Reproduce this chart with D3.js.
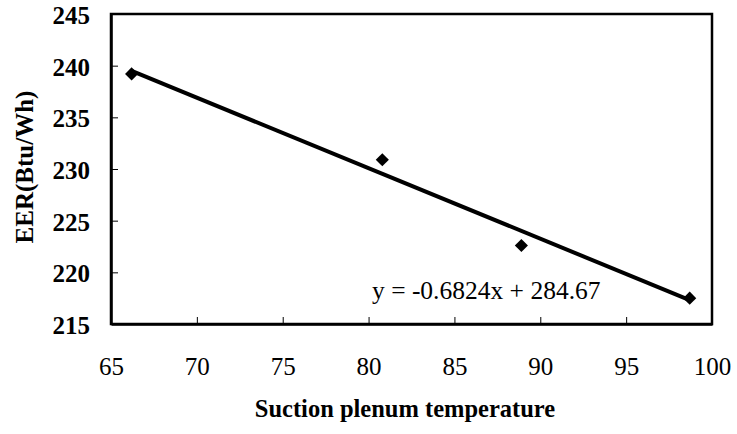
<!DOCTYPE html>
<html>
<head>
<meta charset="utf-8">
<script src="https://cdn.jsdelivr.net/npm/d3@7"></script>
<style>
  body { margin: 0; background: #fff; }
  svg text { font-family: 'Liberation Serif', 'Times New Roman', serif; fill: #000; }
</style>
</head>
<body>
<div id="chart"></div>
<script>
// data
var temps = [66.2, 80.8, 88.9, 98.7];
var eers = [239.2, 230.9, 222.6, 217.5];
var xTicks = [65, 70, 75, 80, 85, 90, 95, 100];
var yTicks = [215, 220, 225, 230, 235, 240, 245];
var slope = -0.6824;
var intercept = 284.67;
var eqLabel = "y = -0.6824x + 284.67";

var svgWidth = 737;
var svgHeight = 434;

var margin = { top: 14, right: 25, bottom: 110, left: 111 };
var chartWidth = svgWidth - margin.left - margin.right;
var chartHeight = svgHeight - margin.top - margin.bottom;

var svg = d3.select("#chart")
    .append("svg")
    .attr("width", svgWidth)
    .attr("height", svgHeight);

var chartGroup = svg.append("g")
    .attr("transform", `translate(${margin.left}, ${margin.top})`);

var xScale = d3.scaleLinear().domain([65, 100]).range([0, chartWidth]);
var yScale = d3.scaleLinear().domain([215, 245]).range([chartHeight, 0]);

// frame
chartGroup.append("rect")
    .attr("width", chartWidth)
    .attr("height", chartHeight)
    .attr("fill", "none")
    .attr("stroke", "#000")
    .attr("stroke-width", 2.5);

// x axis, ticks pointing up into the plot
var xAxis = chartGroup.append("g")
    .attr("transform", `translate(0, ${chartHeight})`)
    .call(d3.axisBottom(xScale).tickValues(xTicks).tickSizeInner(-7).tickSizeOuter(0).tickPadding(33));
xAxis.attr("font-family", null);
xAxis.select(".domain").attr("stroke-width", 2.5);
xAxis.selectAll("text")
    .style("font-size", "25px");

// y axis, ticks pointing right
var yAxis = chartGroup.append("g")
    .call(d3.axisLeft(yScale).tickValues(yTicks).tickSizeInner(-7).tickSizeOuter(0).tickPadding(21));
yAxis.attr("font-family", null);
yAxis.select(".domain").attr("stroke-width", 2.5);
yAxis.selectAll("text")
    .attr("dy", "0.38em")
    .style("font-size", "25px")
    .style("font-weight", "bold");

// trend line
var xs = d3.extent(temps);
chartGroup.append("line")
    .attr("x1", xScale(xs[0]))
    .attr("y1", yScale(slope * xs[0] + intercept))
    .attr("x2", xScale(xs[1]))
    .attr("y2", yScale(slope * xs[1] + intercept))
    .attr("stroke", "#000")
    .attr("stroke-width", 4);

// diamond markers
chartGroup.selectAll("path.pt")
    .data(temps)
    .enter()
    .append("path")
    .attr("class", "pt")
    .attr("d", d3.symbol().type(d3.symbolDiamond2).size(110))
    .attr("transform", (d, i) => `translate(${xScale(d)}, ${yScale(eers[i])})`)
    .attr("fill", "#000");

// equation
chartGroup.append("text")
    .attr("x", xScale(80.2))
    .attr("y", yScale(217.4))
    .style("font-size", "25.5px")
    .text(eqLabel);

// axis titles
svg.append("text")
    .attr("x", 405)
    .attr("y", 417)
    .attr("text-anchor", "middle")
    .style("font-size", "24.5px")
    .style("font-weight", "bold")
    .text("Suction plenum temperature");

svg.append("text")
    .attr("transform", "rotate(-90)")
    .attr("x", -167)
    .attr("y", 33)
    .attr("text-anchor", "middle")
    .style("font-size", "25px")
    .style("font-weight", "bold")
    .text("EER(Btu/Wh)");
</script>
</body>
</html>
